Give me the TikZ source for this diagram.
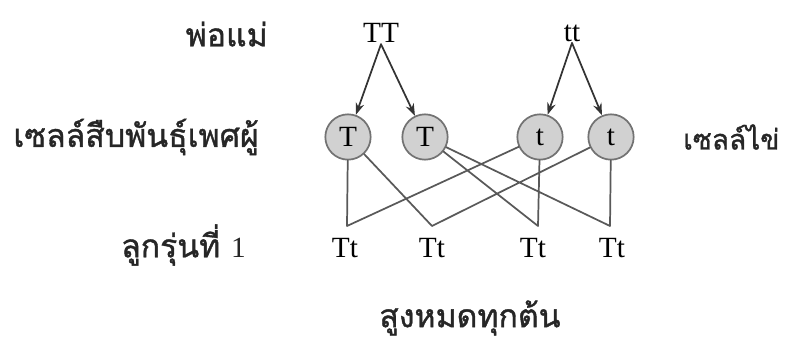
\documentclass[tikz,border=0pt]{standalone}
\usepackage{fontspec}
\usetikzlibrary{arrows.meta}
\setmainfont{Liberation Serif}
\newfontfamily\thaifont[Script=Thai,FakeBold=1.2]{Loma}
\begin{document}
\begin{tikzpicture}[x=0.75pt,y=-0.75pt,line join=round,line cap=round,>={Stealth[length=9pt,width=6.5pt]},
	gamete/.style={circle,draw=black!55,fill=black!18,line width=1.3pt,minimum size=34pt,inner sep=0pt,font=\fontsize{22}{26}\selectfont},
	geno/.style={font=\fontsize{22}{26}\selectfont,inner sep=1pt},
	thai/.style={font=\thaifont\fontsize{24}{28}\selectfont,inner sep=0pt,black!85}]
	\useasboundingbox (0,0) rectangle (788,342);
	% parents
	\node[geno] (TT) at (381,33) {TT};
	\node[geno] (tt) at (572,33) {tt};
	% gametes
	\foreach \n/\x/\g in {g1/348/T,g2/425/T,g3/540/t,g4/611/t}
	\node[gamete] (\n) at (\x,137) {\g};
	% offspring
	\foreach \n/\x/\l in {1/347/345,2/432/432,3/538/533,4/610/612}{
		\coordinate (j\n) at (\x,226);
		\node[geno] (f\n) at (\l,248) {Tt};}
	\draw[->,line width=1.3pt,black!80] (TT.south)--(g1);
	\draw[->,line width=1.3pt,black!80] (TT.south)--(g2);
	\draw[->,line width=1.3pt,black!80] (tt.south)--(g3);
	\draw[->,line width=1.3pt,black!80] (tt.south)--(g4);
	\draw[line width=1.3pt,black!65] (g1)--(j1)--(g3)
	(g1)--(j2)--(g4)
	(g2)--(j3)--(g3)
	(g2)--(j4)--(g4);
	% labels
	\node[thai,anchor=east] (parent) at (268,34) {พ่อแม่};
	\node[thai,anchor=east] (sperm) at (259,137) {เซลล์สืบพันธุ์เพศผู้};
	\node[thai,anchor=east] (gen) at (246,245) {ลูกรุ่นที่ {\fontspec{Liberation Serif}\fontsize{22}{26}\selectfont 1}};
	\node[thai,anchor=west,font=\thaifont\fontsize{21}{25}\selectfont] (egg) at (683,137) {เซลล์ไข่};
	\node[thai] (tall) at (470,318) {สูงหมดทุกต้น};
\end{tikzpicture}
\end{document}
